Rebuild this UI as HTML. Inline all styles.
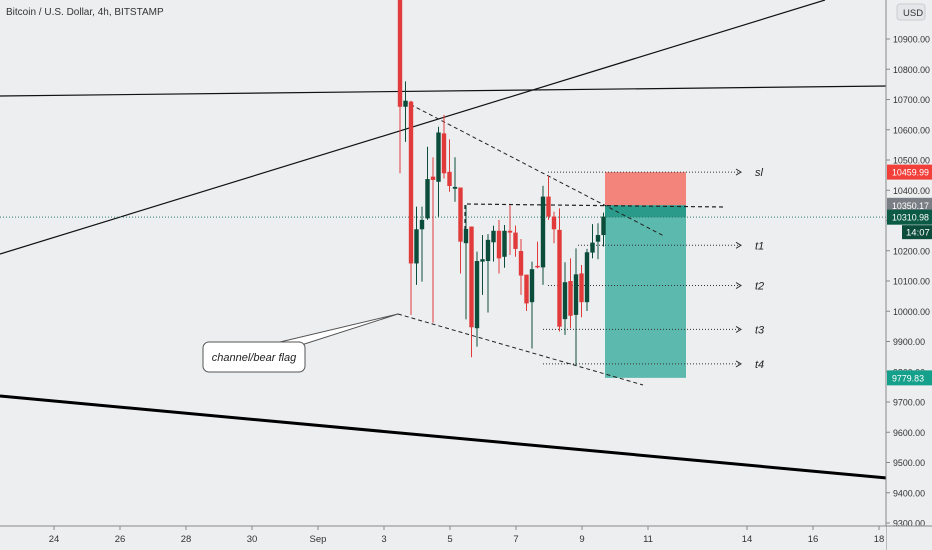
<!DOCTYPE html>
<html><head><meta charset="utf-8"><style>
body{margin:0;background:#eceef0;font-family:"Liberation Sans",sans-serif;}
svg{display:block}
</style></head><body>
<svg id="c" width="932" height="550" xmlns="http://www.w3.org/2000/svg">
<rect width="932" height="550" fill="#eceef0"/>
<text x="6" y="15" font-size="10" fill="#333">Bitcoin / U.S. Dollar, 4h, BITSTAMP</text>
<g id="overlay"></g>
<g id="candles"></g>
<g id="yaxis"></g>
<g id="xaxis"></g>
</svg>
<script>
const yTicks=[10900,10800,10700,10600,10500,10400,10300,10200,10100,10000,9900,9800,9700,9600,9500,9400,9300];
const xTickLabels=["24","26","28","30","Sep","3","5","7","9","11","14","16","18"];
const xTickDays=[-8,-6,-4,-2,0,2,4,6,8,10,13,15,17];
const opens=[11060,10676,10693,10158,10271,10307,10445,10428,10588,10461,10405,10409,10225,10280,9944,10164,10166,10228,10266,10180,10266,10260,10199,10121,10030,10150,10145,10379,10313,10269,9974,10100,9988,10125,10030,10194,10230,10252];
const highs=[11100,10760,10696,10346,10346,10544,10509,10610,10649,10568,10509,10409,10351,10280,10197,10252,10255,10283,10302,10285,10351,10283,10239,10121,10164,10230,10415,10447,10329,10340,10162,10175,10208,10153,10206,10288,10291,10326];
const lows=[10456,10560,9988,10087,10098,10302,9962,10313,10439,10395,10362,10125,9973,9848,9883,10054,9996,10164,10125,10144,10186,10180,10054,10001,9877,10142,10087,10302,10225,9933,9922,9944,9822,9980,10001,10175,10172,10214];
const closes=[10676,10696,10158,10271,10302,10437,10434,10591,10456,10414,10411,10230,10272,9947,10166,10172,10236,10266,10175,10266,10260,10206,10118,10026,10139,10145,10379,10313,10271,9949,10096,9985,10122,10030,10195,10227,10252,10313];
const levels={sl:10459.99,entry:10350.17,last:10310.98,target:9779.83};
const targetLevels=[10459.99,10218,10085,9940,9826];
const targetNames=["sl","t1","t2","t3","t4"];
const NS="http://www.w3.org/2000/svg";
const Y=p=>39+(10900-p)*0.3025;
const X=d=>318+d*33;
const CX=i=>400+i*5.5;
function mk(parent,tag,attrs){const e=document.createElementNS(NS,tag);for(const k in attrs)e.setAttribute(k,attrs[k]);document.getElementById(parent).appendChild(e);return e;}
let e;
e=mk('overlay','line',{x1:0,y1:254,x2:825,y2:0,stroke:'#111','stroke-width':1.2});

e=mk('overlay','line',{x1:0,y1:96,x2:887,y2:86,stroke:'#111','stroke-width':1.2});

e=mk('overlay','line',{x1:0,y1:396,x2:887,y2:478,stroke:'#000','stroke-width':3});

e=mk('overlay','rect',{x:605,y:Y(levels.sl),width:81,height:Y(levels.entry)-Y(levels.sl),fill:'#f2847c'});

e=mk('overlay','rect',{x:605,y:Y(levels.entry),width:81,height:Y(levels.target)-Y(levels.entry),fill:'#5cb9ad'});

e=mk('overlay','rect',{x:605,y:Y(levels.entry),width:81,height:Y(levels.last)-Y(levels.entry),fill:'#2a9a8a'});

e=mk('overlay','line',{x1:0,y1:Y(levels.last),x2:887,y2:Y(levels.last),stroke:'#2a7a6a','stroke-width':1,'stroke-dasharray':'1 2'});

e=mk('overlay','line',{x1:398,y1:98,x2:664,y2:236,stroke:'#222','stroke-width':1,'stroke-dasharray':'4 3'});

e=mk('overlay','line',{x1:398,y1:314,x2:643,y2:385,stroke:'#222','stroke-width':1,'stroke-dasharray':'4 3'});

e=mk('overlay','path',{d:'M465 230 L465 204 L724 207',fill:'none',stroke:'#222','stroke-width':1.2,'stroke-dasharray':'4 3'});

const starts=[548,578,548,543,543];
targetLevels.forEach((p,i)=>{
 const y=Y(p);
 const l=mk('overlay','line',{x1:starts[i],y1:y,x2:741,y2:y,stroke:'#333','stroke-width':1,'stroke-dasharray':'1 2'});
 
 
 const a=mk('overlay','path',{d:`M736 ${y-3} L741 ${y} L736 ${y+3}`,fill:'none',stroke:'#333','stroke-width':1});
 
 
 const t=mk('overlay','text',{x:755,y:y+4,'font-size':11,'font-style':'italic',fill:'#222'});
 t.textContent=targetNames[i];
 
 
});
e=mk('overlay','path',{d:'M280 342 L398 314 L292 348',fill:'#fff',stroke:'#555','stroke-width':1});

e=mk('overlay','rect',{x:203,y:342,width:102,height:30,rx:6,fill:'#fff',stroke:'#555','stroke-width':1});

e=mk('overlay','text',{x:254,y:361,'font-size':11,'font-style':'italic','text-anchor':'middle',fill:'#222'});
e.textContent='channel/bear flag';

opens.forEach((o,i)=>{
 const c=closes[i],up=c>=o,col=up?'#0b4d3a':'#e03a3a';
 const x=CX(i);
 const w=mk('candles','line',{x1:x,y1:Y(highs[i]),x2:x,y2:Y(lows[i]),stroke:col,'stroke-width':1});
 
 
 const top=Y(Math.max(o,c)),h=Math.max(1,Math.abs(Y(o)-Y(c)));
 const b=mk('candles','rect',{x:x-2.2,y:top,width:4.4,height:h,fill:col});
 
 
});
e=mk('yaxis','rect',{x:886,y:0,width:46,height:550,fill:'#eceef0'});

e=mk('yaxis','line',{x1:886,y1:0,x2:886,y2:550,stroke:'#888','stroke-width':1});

yTicks.forEach(p=>{
 const y=Y(p);
 const t=mk('yaxis','text',{x:893,y:y+3.5,'font-size':9,fill:'#333',textLength:p>=10000?37:32,lengthAdjust:'spacingAndGlyphs'});
 t.textContent=p.toFixed(2);
 
 
 const k=mk('yaxis','line',{x1:886,y1:y,x2:890,y2:y,stroke:'#888'});
 
 
});
const tags=[[levels.sl,'#f23f3a',levels.sl.toFixed(2),'sl-price-tag'],[levels.entry,'#7a7e85',levels.entry.toFixed(2),'entry-price-tag'],[levels.last,'#0b5a45',levels.last.toFixed(2),'last-price-tag'],[levels.target,'#14a08a',levels.target.toFixed(2),'target-price-tag']];
tags.forEach(([p,col,txt,n])=>{
 const y=Y(p);
 const r=mk('yaxis','rect',{x:887,y:y-7.5,width:45,height:15,fill:col});
 
 
 const t=mk('yaxis','text',{x:892,y:y+3.5,'font-size':9,fill:'#fff',textLength:p>=10000?37:32,lengthAdjust:'spacingAndGlyphs'});
 t.textContent=txt;
 
 
});
e=mk('yaxis','rect',{x:902,y:Y(levels.last)+8,width:30,height:14,fill:'#0b4d3a'});

e=mk('yaxis','text',{x:906,y:Y(levels.last)+18.5,'font-size':9.5,fill:'#fff'});
e.textContent='14:07';

e=mk('yaxis','rect',{x:897,y:4,width:28,height:16,rx:3,fill:'#e4e6e9',stroke:'#ccc'});

e=mk('yaxis','text',{x:903,y:16,'font-size':9.5,fill:'#333'});
e.textContent='USD';

e=mk('xaxis','rect',{x:0,y:526,width:886,height:24,fill:'#eceef0'});

e=mk('xaxis','line',{x1:0,y1:526,x2:932,y2:526,stroke:'#888'});

xTickDays.forEach((d,i)=>{
 const x=X(d);
 const k=mk('xaxis','line',{x1:x,y1:526,x2:x,y2:530,stroke:'#888'});
 
 
 const t=mk('xaxis','text',{x:x,y:542,'font-size':9.5,'text-anchor':'middle',fill:'#333'});
 t.textContent=xTickLabels[i];
 
 
});
</script>
</body></html>
